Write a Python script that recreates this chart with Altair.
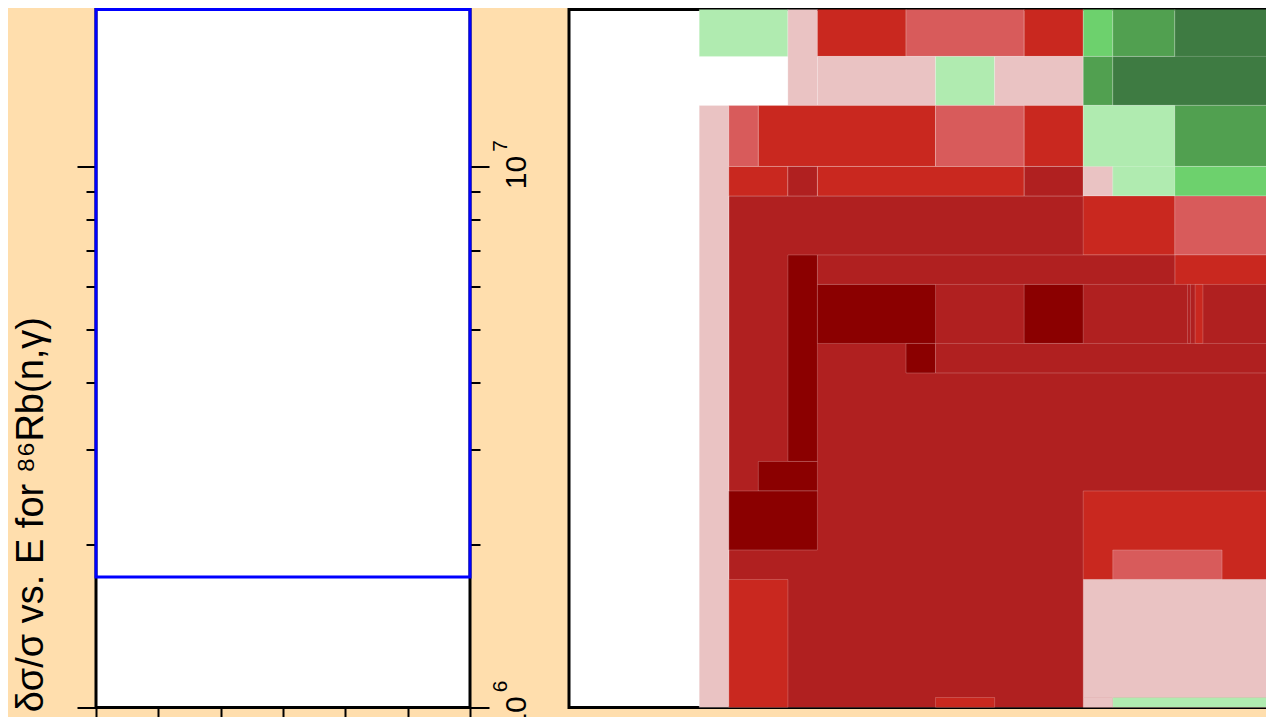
import altair as alt
import pandas as pd

BG = "#FFDEAD"

# ---------------- left panel: delta sigma / sigma vs E ----------------
x_ticks = [0, 1, 2, 3, 4, 5, 6]
x_domain = [0, 6]
energy_ticks = [1e6, 2e6, 3e6, 4e6, 5e6, 6e6, 7e6, 8e6, 9e6, 1e7, 2e7]
energy_domain = [1e6, 1.956e7]
band_x = [0, 6]
band_energy = [1.743e6, 1.956e7]
sup_energy = [1e7, 1e6]
sup_text = ["7", "6"]
sup_x = [6.5, 6.5]

# ---------------- right panel: sensitivity map cells ----------------
levels = [-5, -4, -3, -2, -1, 1, 2, 3, 4]
level_colors = ["#8B0000", "#B02020", "#C9281F", "#D85B5B", "#EAC3C3",
                "#B0EBB0", "#6DD16D", "#51A050", "#3E7B42"]

cell_x0 = [
    1, 0,
    0, 3, 4, 7, 11, 13, 14, 16.1,
    4, 8, 10, 13, 14,
    1, 2, 8, 11, 13, 16.1,
    1, 3, 4, 11, 13, 14, 16.1,
    13, 16.1, 16.1, 4,
    3, 2, 1, 4, 11, 7,
    16.53, 16.79, 8,
    13, 14, 1, 13, 8, 13, 14,
]
cell_x1 = [
    20, 1,
    3, 4, 7, 11, 13, 14, 16.1, 20,
    8, 10, 13, 14, 20,
    2, 8, 11, 13, 16.1, 20,
    3, 4, 11, 13, 14, 16.1, 20,
    16.1, 20, 20, 16.1,
    4, 4, 4, 8, 13, 8,
    16.63, 17.05, 20,
    20, 17.7, 3, 20, 10, 14, 20,
]
cell_y0 = [
    -0.34, -0.34,
    21.73, 20.07, 21.73, 21.73, 21.73, 21.73, 21.73, 20.07,
    20.07, 20.07, 20.07, 20.07, 20.07,
    18, 18, 18, 18, 17, 18,
    17, 17, 17, 17, 17, 17, 17,
    15, 15, 14, 14,
    8, 7, 5, 12, 12, 11,
    12, 12, 11,
    4, 4, -0.34, 0, -0.34, -0.34, -0.34,
]
cell_y1 = [
    17, 20.07,
    23.49, 23.49, 23.49, 23.49, 23.49, 23.49, 23.49, 23.49,
    21.73, 21.73, 21.73, 21.73, 21.73,
    20.07, 20.07, 20.07, 20.07, 20.07, 20.07,
    18, 18, 18, 18, 18, 18, 18,
    17, 17, 15, 15,
    15, 8, 7, 14, 14, 12,
    14, 14, 12,
    7, 5, 4, 4, 0, 0, 0,
]
cell_level = [
    -4, -1,
    1, -1, -3, -2, -3, 2, 3, 4,
    -1, 1, -1, 3, 4,
    -2, -3, -2, -3, 1, 3,
    -3, -4, -3, -4, -1, 1, 2,
    -3, -2, -3, -4,
    -5, -5, -5, -5, -5, -5,
    -4, -3, -4,
    -3, -2, -3, -1, -3, -1, 1,
]

cells = pd.DataFrame({"x0": cell_x0, "x1": cell_x1, "y0": cell_y0,
                      "y1": cell_y1, "level": cell_level})
cells["order"] = range(len(cells))

band = pd.DataFrame({"x": [band_x[0]], "x2": [band_x[1]],
                     "e": [band_energy[0]], "e2": [band_energy[1]]})
sups = pd.DataFrame({"sx": sup_x, "e": sup_energy, "t": sup_text})

FONT = "Liberation Sans"

x_scale = alt.Scale(domain=x_domain, nice=False, zero=False)
y_scale = alt.Scale(type="log", domain=energy_domain, nice=False)

major = "datum.value == 1000000 || datum.value == 10000000"
tick_size = {"condition": {"test": major, "value": 19}, "value": 10}

left_axis = alt.Axis(
    orient="left", values=energy_ticks, labels=False, domain=False, grid=False,
    tickSize=tick_size, tickWidth=2, tickColor="black",
    title="δσ/σ vs. E for ⁸⁶Rb(n,γ)", titleFont=FONT, titleFontSize=38,
    titleFontWeight="normal", titleColor="black", titleAngle=270,
    titleAlign="right", titleBaseline="alphabetic", titleX=-54, titleY=307,
)
right_axis = alt.Axis(
    orient="right", values=energy_ticks, domain=False, grid=False,
    tickSize=tick_size, tickWidth=2, tickColor="black",
    labelExpr="(datum.value == 10000000 || datum.value == 1000000) ? '10' : ''",
    labelAngle=270, labelAlign="center", labelBaseline="top", labelFont=FONT,
    labelFontSize=30, labelColor="black", labelPadding=12, labelOffset=5,
    labelOverlap=False, labelFlush=False, title=None,
)
x_axis = alt.Axis(values=x_ticks, labels=False, domain=False, grid=False,
                  tickSize=10, tickWidth=2, tickColor="black", title=None)

blue_box = alt.Chart(band).mark_rect(
    fillOpacity=0, stroke="#0000FF", strokeWidth=3
).encode(
    x=alt.X("x:Q", scale=x_scale, axis=x_axis),
    x2="x2:Q",
    y=alt.Y("e:Q", scale=y_scale, axis=left_axis),
    y2="e2:Q",
)
right_ticks = alt.Chart(band).mark_rule(opacity=0).encode(
    y=alt.Y("e:Q", scale=y_scale, axis=right_axis),
)
superscripts = alt.Chart(sups).mark_text(
    angle=270, font=FONT, fontSize=21, align="center", baseline="middle",
    dx=21, color="black"
).encode(
    x=alt.X("sx:Q", scale=x_scale, axis=x_axis),
    y=alt.Y("e:Q", scale=y_scale, axis=None),
    text="t:N",
)
left = alt.layer(blue_box, right_ticks, superscripts).resolve_axis(
    y="independent"
).properties(width=374, height=698)

right = alt.Chart(cells).mark_rect(
    stroke="white", strokeWidth=0.7, strokeOpacity=0.3, clip=True
).encode(
    x=alt.X("x0:Q", scale=alt.Scale(domain=[-4.41, 20], nice=False, zero=False), axis=None),
    x2="x1:Q",
    y=alt.Y("y0:Q", scale=alt.Scale(domain=[-0.34, 23.32], nice=False, zero=False), axis=None),
    y2="y1:Q",
    color=alt.Color("level:O", scale=alt.Scale(domain=levels, range=level_colors), legend=None),
    order=alt.Order("order:Q"),
).properties(width=721, height=698)

chart = alt.hconcat(left, right, spacing=99, bounds="flush").properties(
    background=BG,
    autosize=alt.AutoSizeParams(type="none"),
    padding={"left": 88, "top": 1.5, "right": 1170, "bottom": 699.5},
).configure_view(stroke="black", strokeWidth=3, fill="white")

chart.save("out.html", embed_options={"renderer": "svg", "actions": False})
